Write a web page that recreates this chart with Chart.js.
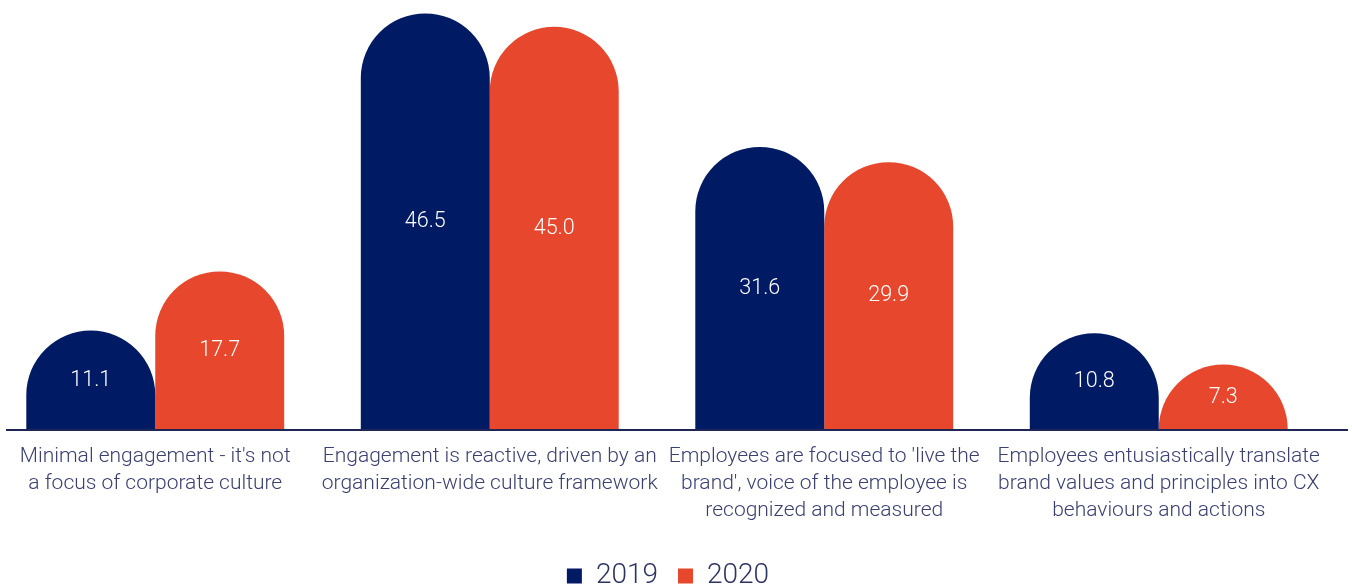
<!DOCTYPE html>
<html lang="en">
<head>
<meta charset="UTF-8">
<title>Employee engagement</title>
<script src="https://cdn.jsdelivr.net/npm/chart.js@4.4.1/dist/chart.umd.min.js"></script>
<style>
  html, body { margin: 0; background: #fff; overflow: hidden; font-family: Roboto, sans-serif; }
  /* canvas starts a little left of the page so the first group sits where the original had it */
  #wrap { width: 1364px; height: 600px; margin-left: -12px; }
</style>
</head>
<body>
<div id="wrap"><canvas id="chart"></canvas></div>
<script>
const categories = [
  ["Minimal engagement - it's not", "a focus of corporate culture"],
  ["Engagement is reactive, driven by an", "organization-wide culture framework"],
  ["Employees are focused to 'live the", "brand', voice of the employee is", "recognized and measured"],
  ["Employees entusiastically translate", "brand values and principles into CX", "behaviours and actions"]
];
const years = ['2019', '2020'];
const values2019 = [11.1, 46.5, 31.6, 10.8];
const values2020 = [17.7, 45.0, 29.9, 7.3];

const navy = '#001a63';
const red = '#e6472d';
const textColor = '#3a4070';

// bars with a fully rounded top (half circle), square at the base
Chart.BarElement.prototype.draw = function (ctx) {
  const { x, y, base, width } = this.getProps(['x', 'y', 'base', 'width']);
  const left = x - width / 2;
  const right = x + width / 2;
  const ry = Math.min(width / 2, base - y);
  ctx.save();
  ctx.fillStyle = this.options.backgroundColor;
  ctx.beginPath();
  ctx.moveTo(left, base);
  ctx.lineTo(left, y + ry);
  ctx.ellipse(x, y + ry, width / 2, ry, 0, Math.PI, 2 * Math.PI);
  ctx.lineTo(right, base);
  ctx.closePath();
  ctx.fill();
  ctx.restore();
};

const valueLabels = {
  id: 'valueLabels',
  afterDatasetsDraw(chart) {
    const ctx = chart.ctx;
    ctx.save();
    ctx.font = '300 21.5px Roboto';
    ctx.fillStyle = '#ffffff';
    ctx.textAlign = 'center';
    ctx.textBaseline = 'middle';
    chart.data.datasets.forEach((ds, i) => {
      chart.getDatasetMeta(i).data.forEach((bar, j) => {
        ctx.fillText(ds.data[j].toFixed(1), bar.x, (bar.y + bar.base) / 2);
      });
    });
    ctx.restore();
  }
};

const baseLine = {
  id: 'baseLine',
  afterDatasetsDraw(chart) {
    const ctx = chart.ctx;
    const y = Math.round(chart.scales.y.getPixelForValue(0));
    ctx.save();
    ctx.strokeStyle = '#1f2554';
    ctx.lineWidth = 2;
    ctx.beginPath();
    ctx.moveTo(18, y);
    ctx.lineTo(chart.width - 4, y);
    ctx.stroke();
    ctx.restore();
  }
};

// nudge the legend to the right to line up with the original
const legendShift = {
  id: 'legendShift',
  afterLayout(chart) {
    chart.legend.left += 11;
    chart.legend.right += 11;
  }
};

new Chart(document.getElementById('chart'), {
  type: 'bar',
  data: {
    labels: categories,
    datasets: [
      { label: years[0], data: values2019, backgroundColor: navy },
      { label: years[1], data: values2020, backgroundColor: red }
    ]
  },
  options: {
    responsive: true,
    maintainAspectRatio: false,
    animation: false,
    layout: { padding: { left: 0, right: 26, top: 0, bottom: 0 } },
    datasets: { bar: { categoryPercentage: 0.771, barPercentage: 1 } },
    scales: {
      x: {
        grid: { display: false },
        border: { display: false },
        ticks: {
          color: textColor,
          font: { family: 'Roboto', size: 21, weight: '300', lineHeight: 1.286 },
          padding: 5,
          maxRotation: 0,
          autoSkip: false
        }
      },
      y: {
        display: false,
        min: 0,
        max: 48
      }
    },
    plugins: {
      legend: {
        position: 'bottom',
        // empty title only used as vertical spacing above the items
        title: { display: true, text: '', padding: { top: 12, bottom: 0 }, font: { size: 1, lineHeight: 1 } },
        labels: {
          color: '#2d3361',
          font: { family: 'Roboto', size: 28, weight: '300' },
          boxWidth: 15,
          boxHeight: 15,
          padding: 20
        }
      },
      tooltip: { enabled: false }
    }
  },
  plugins: [valueLabels, baseLine, legendShift]
});
</script>
</body>
</html>
